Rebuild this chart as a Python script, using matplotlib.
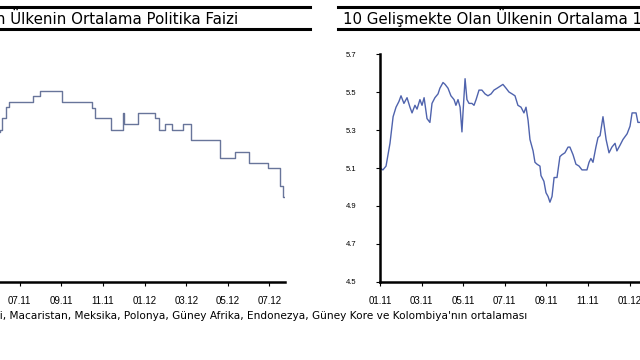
import matplotlib
matplotlib.use('Agg')
import matplotlib.pyplot as plt
from matplotlib.lines import Line2D

plt.rcParams['font.family'] = ['Liberation Sans', 'DejaVu Sans']

# x = months since 01.2011
tick_months = [0, 2, 4, 6, 8, 10, 12, 14, 16, 18]
tick_labels = ['01.11', '03.11', '05.11', '07.11', '09.11', '11.11',
               '01.12', '03.12', '05.12', '07.12']

# left: average policy rate (step series)
policy_month = [4.5, 5.05, 5.15, 5.35, 5.5, 6.63, 6.97, 8.03, 9.45, 9.62,
                10.38, 10.95, 11.0, 11.68, 12.5, 12.7, 12.98, 13.32, 13.85,
                14.23, 15.63, 16.35, 17.02, 17.93, 18.5, 18.65, 18.75]
policy_rate = [5.98, 6.00, 6.16, 6.30, 6.37, 6.45, 6.51, 6.37, 6.29, 6.16,
               6.00, 6.22, 6.08, 6.22, 6.16, 6.00, 6.08, 6.00, 6.08,
               5.87, 5.63, 5.71, 5.57, 5.50, 5.26, 5.12, 5.12]

# right: average 10y bond yield
bond_month = [0.00, 0.14, 0.29, 0.48, 0.63, 0.77, 0.91, 1.01, 1.15, 1.30,
              1.44, 1.54, 1.68, 1.78, 1.92, 2.02, 2.12, 2.26, 2.40, 2.50,
              2.64, 2.79, 2.88, 3.03, 3.13, 3.27, 3.41, 3.56, 3.65, 3.75,
              3.85, 3.94, 3.99, 4.09, 4.18, 4.28, 4.42, 4.52, 4.62, 4.76,
              4.90, 5.05, 5.19, 5.34, 5.48, 5.63, 5.77, 5.91, 6.06, 6.20,
              6.35, 6.49, 6.63, 6.78, 6.92, 7.02, 7.12, 7.21, 7.36, 7.45,
              7.55, 7.69, 7.74, 7.88, 7.98, 8.08, 8.17, 8.27, 8.37, 8.51,
              8.65, 8.75, 8.89, 9.04, 9.13, 9.28, 9.42, 9.57, 9.71, 9.81,
              9.95, 10.05, 10.14, 10.24, 10.38, 10.48, 10.58, 10.72, 10.87, 11.01,
              11.15, 11.30, 11.39, 11.54, 11.68, 11.88, 12.02, 12.12, 12.31, 12.40,
              12.50, 12.70, 13.00]
bond_yield = [5.10, 5.09, 5.11, 5.23, 5.37, 5.42, 5.45, 5.48, 5.44, 5.47,
              5.42, 5.39, 5.43, 5.41, 5.46, 5.43, 5.47, 5.36, 5.34, 5.44,
              5.47, 5.49, 5.52, 5.55, 5.54, 5.52, 5.48, 5.46, 5.43, 5.46,
              5.42, 5.29, 5.39, 5.57, 5.46, 5.44, 5.44, 5.43, 5.46, 5.51,
              5.51, 5.49, 5.48, 5.49, 5.51, 5.52, 5.53, 5.54, 5.52, 5.50,
              5.49, 5.48, 5.43, 5.42, 5.39, 5.42, 5.35, 5.25, 5.19, 5.13,
              5.12, 5.11, 5.06, 5.03, 4.97, 4.95, 4.92, 4.95, 5.05, 5.05,
              5.16, 5.17, 5.18, 5.21, 5.21, 5.17, 5.12, 5.11, 5.09, 5.09,
              5.09, 5.13, 5.15, 5.13, 5.21, 5.26, 5.27, 5.37, 5.25, 5.18,
              5.21, 5.23, 5.19, 5.22, 5.25, 5.28, 5.32, 5.39, 5.39, 5.34,
              5.34, 5.35, 5.38]

title_left = '10 Gelişmekte Olan Ülkenin Ortalama Politika Faizi'
title_right = '10 Gelişmekte Olan Ülkenin Ortalama 10 Yıllık Tahvil Faizi'
note = ('Brezilya, Şili, Macaristan, Meksika, Polonya, Güney Afrika, Endonezya, '
        'Güney Kore ve Kolombiya\'nın ortalaması')

fig = plt.figure(figsize=(6.4, 3.6), dpi=100)
ax_l = fig.add_axes([-105 / 640, 78 / 360, 390 / 640, 228 / 360])
ax_r = fig.add_axes([380 / 640, 78 / 360, 390 / 640, 228 / 360])

ax_l.step(policy_month, policy_rate, where='post', color='#68759a', lw=1.0)
ax_l.set_ylim(4, 7)
ax_r.plot(bond_month, bond_yield, color='#4f63ad', lw=1.0)
ax_r.set_ylim(4.5, 5.7)
ax_r.set_yticks([4.5, 4.7, 4.9, 5.1, 5.3, 5.5, 5.7])
ax_r.set_yticklabels(['4.5', '4.7', '4.9', '5.1', '5.3', '5.5', '5.7'])

for ax in (ax_l, ax_r):
    ax.set_xlim(0, 18.75)
    ax.set_xticks(tick_months)
    ax.set_xticklabels(tick_labels)
    for s in ('top', 'right'):
        ax.spines[s].set_visible(False)
    for s in ('left', 'bottom'):
        ax.spines[s].set_linewidth(1.8)
    ax.tick_params(axis='x', length=3, width=0.8, pad=7, labelsize=7)
    ax.tick_params(axis='y', length=3, width=0.8, pad=14, labelsize=5.5)
    ax.patch.set_visible(False)

# title bars
for x0, x1, tx, txt in ((0.0, 310 / 640, -143 / 640, title_left),
                        (338 / 640, 1.0, 343 / 640, title_right)):
    for yy in (1 - 7 / 360, 1 - 29 / 360):
        fig.add_artist(Line2D([x0, x1], [yy, yy], transform=fig.transFigure,
                              color='black', lw=2.2))
    fig.text(tx, 1 - 18 / 360, txt, fontsize=10.8, va='center', ha='left',
             family='DejaVu Sans')

fig.text(527 / 640, 1 - 316 / 360, note, fontsize=7.6, ha='right', va='center',
         family='DejaVu Sans')

fig.savefig('out.png', dpi=100)
